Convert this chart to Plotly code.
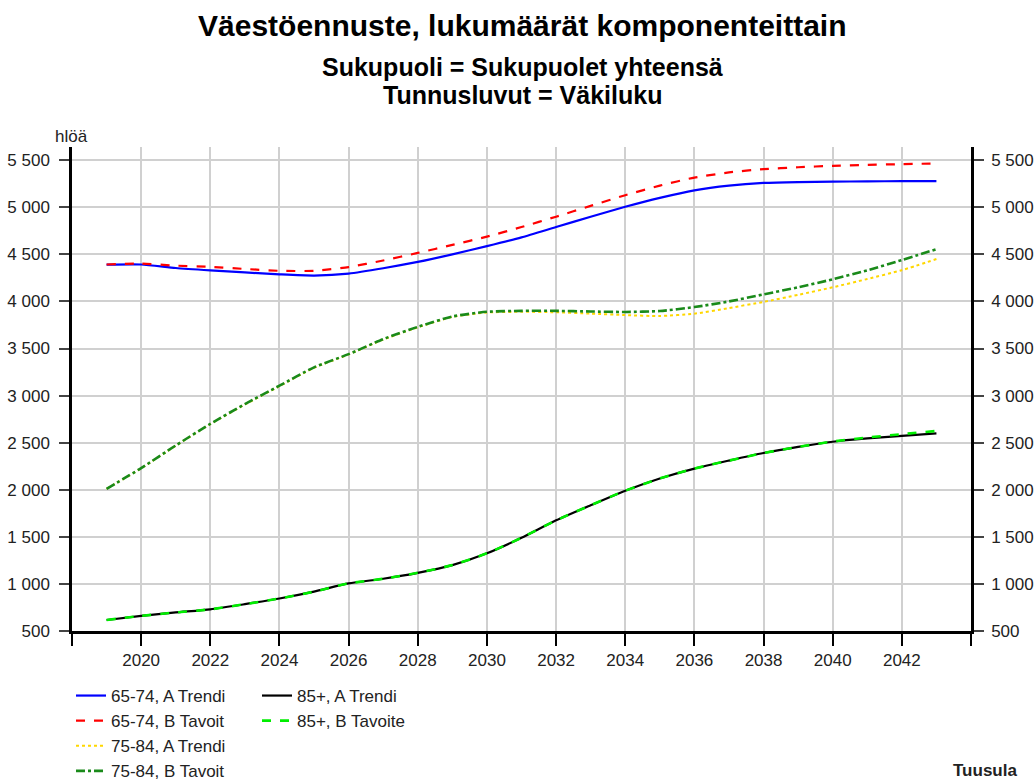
import plotly.graph_objects as go

years = list(range(2019, 2044))

a6574_trendi = [4390, 4392, 4355, 4330, 4308, 4288, 4275, 4295, 4352, 4420, 4500, 4587, 4680,
                4790, 4900, 5005, 5100, 5180, 5230, 5258, 5268, 5272, 5275, 5277, 5278]
a6574_tavoit = [4392, 4402, 4380, 4367, 4345, 4325, 4325, 4365, 4435, 4515, 4600, 4688, 4790,
                4900, 5015, 5128, 5230, 5315, 5370, 5405, 5425, 5440, 5450, 5458, 5465]
a7584_trendi = [2010, 2228, 2468, 2697, 2905, 3100, 3295, 3437, 3595, 3725, 3835, 3882, 3890,
                3885, 3870, 3855, 3845, 3870, 3930, 3995, 4070, 4150, 4238, 4332, 4450]
a7584_tavoit = [2010, 2230, 2470, 2700, 2910, 3105, 3300, 3440, 3600, 3730, 3840, 3890, 3900,
                3900, 3893, 3888, 3898, 3940, 4000, 4075, 4150, 4235, 4330, 4440, 4555]
a85_trendi = [617, 660, 697, 730, 785, 845, 918, 1005, 1055, 1118, 1200, 1325, 1490,
              1675, 1835, 1990, 2120, 2225, 2310, 2390, 2455, 2510, 2545, 2572, 2598]
a85_tavoite = [617, 660, 697, 730, 785, 845, 918, 1005, 1055, 1118, 1200, 1325, 1490,
               1675, 1835, 1990, 2120, 2225, 2310, 2390, 2455, 2512, 2555, 2590, 2625]

series_names = ["65-74, A Trendi", "65-74, B Tavoit", "75-84, A Trendi", "75-84, B Tavoit",
                "85+, A Trendi", "85+, B Tavoite"]

y_tickvals = [500, 1000, 1500, 2000, 2500, 3000, 3500, 4000, 4500, 5000, 5500]
y_ticktext = ["500", "1 000", "1 500", "2 000", "2 500", "3 000", "3 500", "4 000", "4 500",
              "5 000", "5 500"]
x_tickvals = list(range(2018, 2045, 2))
x_ticktext = [""] + [str(v) for v in range(2020, 2043, 2)] + [""]

title = "Väestöennuste, lukumäärät komponenteittain"
subtitle1 = "Sukupuoli = Sukupuolet yhteensä"
subtitle2 = "Tunnusluvut = Väkiluku"
unit_label = "hlöä"
region_label = "Tuusula"

FONT = "Arial, 'Liberation Sans', sans-serif"

styles = [
    dict(color="#0000FF", width=2.2, dash="solid"),
    dict(color="#FF0000", width=2.2, dash="dash"),
    dict(color="#FFD700", width=2, dash="dot"),
    dict(color="#1A8A1A", width=2.6, dash="dashdot"),
    dict(color="#000000", width=2.2, dash="solid"),
    dict(color="#00EE00", width=2.6, dash="dash"),
]
data = [a6574_trendi, a6574_tavoit, a7584_trendi, a7584_tavoit, a85_trendi, a85_tavoite]
legend_ids = ["legend", "legend", "legend", "legend", "legend2", "legend2"]

ML, MR, MT, MB = 72, 63, 147, 150
W, H = 1034, 781
plot_h = H - MT - MB
plot_w = W - ML - MR
def py(px):
    return (H - MB - px) / plot_h
def pxx(px):
    return (px - ML) / plot_w

fig = go.Figure()
for name, vals, st, lg in zip(series_names, data, styles, legend_ids):
    fig.add_trace(go.Scatter(
        x=years, y=vals, mode="lines", name=name,
        line=dict(color=st["color"], width=st["width"], dash=st["dash"], shape="spline", smoothing=0.6),
        legend=lg, hoverinfo="x+y+name",
    ))

# invisible trace on the right axis so it is drawn
fig.add_trace(go.Scatter(x=years, y=a6574_trendi, yaxis="y2", mode="lines",
                         line=dict(width=0), showlegend=False, hoverinfo="skip", opacity=0))

axis_font = dict(family=FONT, size=17, color="#222")
leg_font = dict(family=FONT, size=17, color="#222")

fig.update_layout(
    width=W, height=H,
    paper_bgcolor="white", plot_bgcolor="white",
    margin=dict(l=ML, r=MR, t=MT, b=MB, autoexpand=False),
    font=dict(family=FONT, size=16, color="#222"),
    showlegend=True,
    xaxis=dict(
        range=[2018, 2044], tickvals=x_tickvals, ticktext=x_ticktext,
        showgrid=True, gridcolor="#D0D0D0", gridwidth=2,
        showline=True, linecolor="black", linewidth=2.5,
        ticks="outside", ticklen=12, tickwidth=2, tickcolor="black",
        tickfont=axis_font, zeroline=False, fixedrange=True,
    ),
    yaxis=dict(
        range=[500, 5640], tickvals=y_tickvals, ticktext=y_ticktext,
        showgrid=True, gridcolor="#D0D0D0", gridwidth=2,
        showline=True, linecolor="black", linewidth=2.5,
        ticks="outside", ticklen=10, tickwidth=2, tickcolor="#444",
        tickfont=axis_font, zeroline=False, fixedrange=True, ticklabelstandoff=6,
    ),
    yaxis2=dict(
        range=[500, 5640], tickvals=y_tickvals, ticktext=y_ticktext,
        overlaying="y", side="right", showgrid=False,
        showline=True, linecolor="black", linewidth=2.5,
        ticks="outside", ticklen=10, tickwidth=2, tickcolor="#444",
        tickfont=axis_font, zeroline=False, fixedrange=True, ticklabelstandoff=4,
    ),
    legend=dict(
        x=pxx(71), y=py(678), xanchor="left", yanchor="top", orientation="v",
        font=leg_font, bgcolor="rgba(0,0,0,0)",
        tracegroupgap=0, itemwidth=30,
    ),
    legend2=dict(
        x=pxx(257), y=py(678), xanchor="left", yanchor="top", orientation="v",
        font=leg_font, bgcolor="rgba(0,0,0,0)",
        tracegroupgap=0, itemwidth=30,
    ),
    annotations=[
        dict(text="<b>" + title + "</b>", x=pxx(522), y=py(25), yanchor="middle",
             xref="paper", yref="paper",
             showarrow=False, font=dict(family=FONT, size=30, color="black")),
        dict(text="<b>" + subtitle1 + "</b>", x=pxx(522), y=py(67), yanchor="middle",
             xref="paper", yref="paper",
             showarrow=False, font=dict(family=FONT, size=25, color="black")),
        dict(text="<b>" + subtitle2 + "</b>", x=pxx(522), y=py(95), yanchor="middle",
             xref="paper", yref="paper",
             showarrow=False, font=dict(family=FONT, size=25, color="black")),
        dict(text=unit_label, x=pxx(71), y=py(137), xanchor="center", yanchor="middle",
             xref="paper", yref="paper",
             showarrow=False, font=dict(family=FONT, size=17, color="#222")),
        dict(text="<b>" + region_label + "</b>", x=pxx(1019), y=py(770),
             xanchor="right", yanchor="middle", xref="paper", yref="paper",
             showarrow=False, font=dict(family=FONT, size=17, color="#222")),
    ],
)

fig.write_html("out.html", config={"displayModeBar": False},
               post_script="document.body.style.margin='0';document.body.style.overflow='hidden';")
